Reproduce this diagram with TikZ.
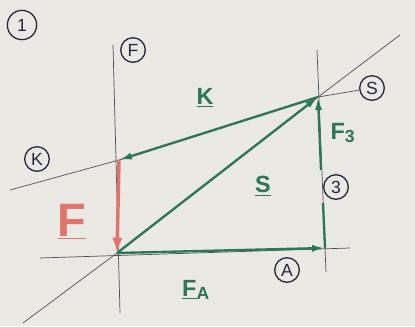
\documentclass[tikz,border=0pt]{standalone}
\usepackage{fontspec}
\setmainfont{Liberation Sans}
\usetikzlibrary{arrows.meta}
\definecolor{paper}{HTML}{EAE9E4}
\definecolor{ink}{HTML}{26263F}
\definecolor{vgreen}{HTML}{2E7656}
\definecolor{vred}{HTML}{E0766B}
\definecolor{thin}{HTML}{4F4F5A}
\tikzset{
  circlab/.style={draw=ink, line width=1.1pt, circle, minimum size=#1, inner sep=0pt, text=ink, font=\fontsize{15}{15}\selectfont},
  circlab/.default=21pt,
  refline/.style={draw=thin, line width=0.6pt},
  vec/.style={draw=vgreen, line width=2pt, -{Latex[length=11pt,width=6pt]}},
  vecplain/.style={draw=vgreen, line width=2pt},
  redvec/.style={draw=vred, line width=3pt, -{Latex[length=13pt,width=9pt]}},
  glab/.style={text=vgreen, font=\fontsize{20}{20}\selectfont\bfseries},
}
\begin{document}
\begin{tikzpicture}[x=0.03cm, y=-0.03cm]
\fill[paper] (0,0) rectangle (415,326);
\useasboundingbox (0,0) rectangle (415,326);
% key points
\coordinate (O) at (117,253);
\coordinate (Kp) at (119,160);
\coordinate (Sp) at (318,97);
\coordinate (Ap) at (325,248);
% reference line ends
\coordinate (Ftop) at (113,45);
\coordinate (Fbot) at (120,313);
\coordinate (Kend) at (10,190);
\coordinate (Sbot) at (23,323);
\coordinate (Stop) at (400,35);
\coordinate (Ttop) at (317,50);
\coordinate (Tbot) at (326,272);
\coordinate (Aleft) at (40,258);
\coordinate (Aright) at (350,248);
\coordinate (T1) at (321,170);
\coordinate (T2) at (323,203);
% circled labels
\node[circlab=25pt] (c1) at (22,25) {1};
\node[circlab] (cF) at (133,50) {F};
\node[circlab] (cK) at (37,159) {K};
\node[circlab] (cS) at (372,88) {S};
\node[circlab] (c3) at (336,187) {3};
\node[circlab] (cA) at (287,270) {A};
% reference lines
\draw[refline] (Ftop) -- (Fbot);
\draw[refline] (Kend) -- (Kp) -- (Sp) -- (cS);
\draw[refline] (Sbot) -- (O) -- (Sp) -- (Stop);
\draw[refline] (Ttop) -- (Tbot);
\draw[refline] (Aleft) -- (Aright);
% vectors
\draw[redvec] (Kp) -- (O);
\draw[vec] (O) -- (Ap);
\draw[vec] (O) -- (Sp);
\draw[vec] (Sp) -- (Kp);
\draw[vecplain] (Ap) -- (T2);
\draw[vec] (T1) -- (Sp);
% vector labels
\node[glab] (lK) at (205,98) {\underline{K}};
\node[glab] (lS) at (263,186) {\underline{S}};
\node[glab] (lF3) at (343,133) {F\textsubscript{\fontsize{15}{15}\selectfont\bfseries 3}};
\node[glab] (lFA) at (196,290) {\underline{F}\textsubscript{\fontsize{15}{15}\selectfont\bfseries A}};
\node[text=vred, font=\fontsize{40}{40}\selectfont\bfseries] (lF) at (72,222) {\underline{F}};
\end{tikzpicture}
\end{document}
